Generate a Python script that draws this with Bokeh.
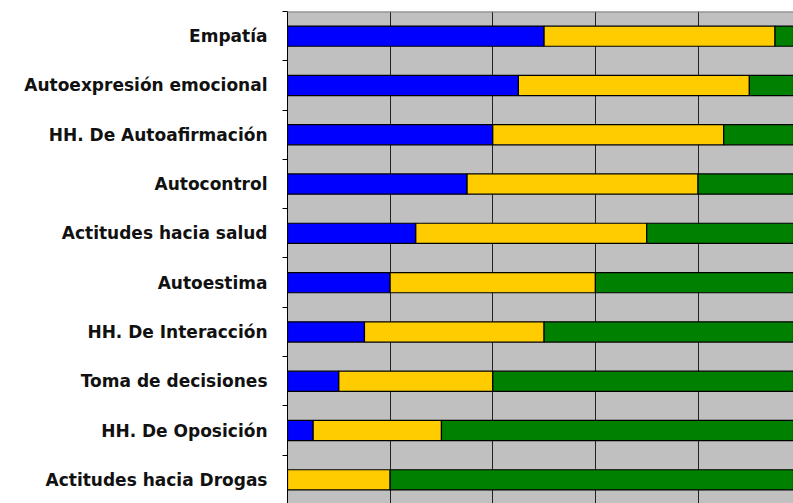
from bokeh.plotting import figure
from bokeh.models import ColumnDataSource, FixedTicker, Range1d, Span
from bokeh.embed import file_html
from bokeh.resources import INLINE

categories = ["Empatía", "Autoexpresión emocional", "HH. De Autoafirmación", "Autocontrol",
              "Actitudes hacia salud", "Autoestima", "HH. De Interacción", "Toma de decisiones",
              "HH. De Oposición", "Actitudes hacia Drogas"]
blue_vals = [25, 22.5, 20, 17.5, 12.5, 10, 7.5, 5, 2.5, 0]
yellow_vals = [22.5, 22.5, 22.5, 22.5, 22.5, 20, 17.5, 15, 12.5, 10]
green_vals = [100 - b - y for b, y in zip(blue_vals, yellow_vals)]
grid_ticks = [10, 20, 30, 40]

n = len(categories)
ypos = [n - 1 - i for i in range(n)]

src = ColumnDataSource(dict(
    y=ypos,
    b0=[0] * n,
    b1=blue_vals,
    y1=[b + y for b, y in zip(blue_vals, yellow_vals)],
    g1=[b + y + g for b, y, g in zip(blue_vals, yellow_vals, green_vals)],
))

p = figure(width=793, height=503, output_backend="svg", toolbar_location=None,
           x_range=Range1d(0, 49.3), y_range=Range1d(-0.48, n - 0.5),
           min_border_left=287, min_border_right=0, min_border_top=11, min_border_bottom=0)
p.background_fill_color = "#C0C0C0"
p.border_fill_color = "white"
p.outline_line_color = None

bh = 0.41
p.hbar(y="y", left="b0", right="b1", height=bh, source=src, fill_color="#0000FF", line_color="black", line_width=1.2)
p.hbar(y="y", left="b1", right="y1", height=bh, source=src, fill_color="#FFCC00", line_color="black", line_width=1.2)
p.hbar(y="y", left="y1", right="g1", height=bh, source=src, fill_color="#008000", line_color="black", line_width=1.2)

p.xaxis.visible = False
p.xgrid.ticker = FixedTicker(ticks=grid_ticks)
p.xgrid.grid_line_color = "#222222"
p.xgrid.grid_line_width = 1
p.ygrid.grid_line_color = None

p.yaxis.ticker = FixedTicker(ticks=ypos, minor_ticks=[k - 0.5 for k in range(n + 1)])
p.yaxis.major_label_overrides = {yy: c for yy, c in zip(ypos, categories)}
p.yaxis.major_tick_line_color = None
p.yaxis.major_tick_out = 0
p.yaxis.major_tick_in = 0
p.yaxis.minor_tick_line_color = "black"
p.yaxis.minor_tick_out = 5
p.yaxis.minor_tick_in = 0
p.yaxis.axis_line_color = "black"
p.yaxis.major_label_standoff = 15
p.yaxis.major_label_text_font = "DejaVu Sans"
p.yaxis.major_label_text_font_style = "bold"
p.yaxis.major_label_text_font_size = "17px"
p.yaxis.major_label_text_color = "#111111"

p.add_layout(Span(location=n - 0.5, dimension="width", line_color="#808080", line_width=2))

open("out.html", "w").write(file_html(p, INLINE))
